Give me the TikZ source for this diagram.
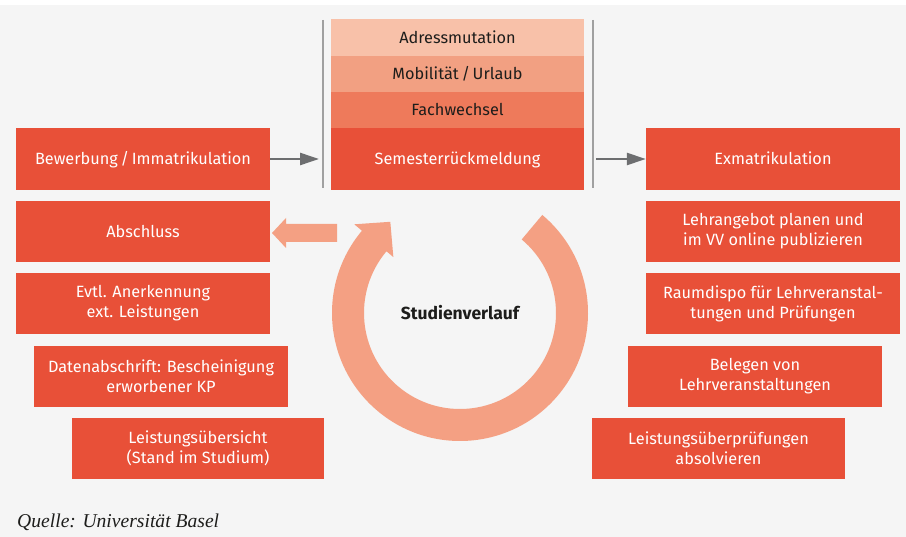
\documentclass[tikz,border=0pt]{standalone}
\usepackage{fontspec}
\setmainfont{Fira Sans}
\newfontfamily\quellefont{Liberation Serif}
\usetikzlibrary{arrows.meta}
\definecolor{bg}{HTML}{F5F5F5}
\definecolor{boxred}{HTML}{E85038}
\definecolor{st1}{HTML}{F8C1A9}
\definecolor{st2}{HTML}{F2A082}
\definecolor{st3}{HTML}{EE7A5B}
\definecolor{ringc}{HTML}{F4A083}
\definecolor{darktxt}{HTML}{1D1D1B}
\definecolor{garr}{HTML}{6D6E70}
\definecolor{vline}{HTML}{A0A0A0}
\tikzset{
  redbox/.style={fill=boxred, text=white, minimum width=254pt, minimum height=61pt, align=center, inner sep=0pt, font=\fontsize{16.3}{20}\selectfont},
  stackbox/.style={minimum width=253pt, align=center, inner sep=0pt, font=\fontsize{16.3}{20}\selectfont},
  oneline/.style={text height=11.2pt, text depth=0pt},
  garrow/.style={draw=garr, line width=2.5pt, -{Triangle[length=19pt,width=12pt]}},
  sepline/.style={draw=vline, line width=1.5pt}
}
\begin{document}
\begin{tikzpicture}[x=1pt,y=-1pt]
\useasboundingbox (0,0) rectangle (906,537);
\fill[white] (0,0) rectangle (906,537);
\fill[bg] (0,5) rectangle (906,537);
% stack
\node[stackbox, oneline, fill=st1, text=darktxt, minimum height=37pt] (adr) at (457.5,37.5) {Adressmutation};
\node[stackbox, oneline, fill=st2, text=darktxt, minimum height=36pt] (mob) at (457.5,74) {Mobilität\,/\,Urlaub};
\node[stackbox, oneline, fill=st3, text=darktxt, minimum height=36pt] (fach) at (457.5,110) {Fachwechsel};
\node[stackbox, oneline, fill=boxred, text=white, minimum height=62pt] (sem) at (457.5,159) {Semesterrückmeldung};
% separator lines
\coordinate (l1t) at (323,20); \coordinate (l1b) at (323,188);
\coordinate (l2t) at (593,20); \coordinate (l2b) at (593,188);
\draw[sepline] (l1t) -- (l1b);
\draw[sepline] (l2t) -- (l2b);
% left boxes
\node[redbox, oneline, minimum height=62pt] (bew) at (143,159) {Bewerbung\,/\,Immatrikulation};
\node[redbox, oneline] (absch) at (143,231.5) {Abschluss};
\node[redbox] (anerk) at (143,303.5) {Evtl. Anerkennung\\ext. Leistungen};
\node[redbox] (daten) at (161,376.5) {Datenabschrift: Bescheinigung\\erworbener KP};
\node[redbox, minimum width=252pt] (leist) at (198,448.5) {Leistungsübersicht\\(Stand im Studium)};
% right boxes
\node[redbox, oneline, minimum height=62pt] (exma) at (773,159) {Exmatrikulation};
\node[redbox] (lehr) at (773,231.5) {Lehrangebot planen und\\im VV online publizieren};
\node[redbox] (raum) at (773,303.5) {Raumdispo für Lehrveranstal-\\tungen und Prüfungen};
\node[redbox] (beleg) at (755,376.5) {Belegen von\\Lehrveranstaltungen};
\node[redbox, minimum width=253pt] (pruef) at (718.5,448.5) {Leistungsüberprüfungen\\absolvieren};
% gray arrows
\coordinate (a1) at (319,159);
\coordinate (a2) at (596,159);
\draw[garrow] (bew.east) -- (a1);
\draw[garrow] (a2) -- (exma.west);
% left block arrow
\fill[ringc] (337,224) -- (286,224) -- (286,218) -- (272,233) -- (286,248) -- (286,242) -- (337,242) -- cycle;
% ring
\begin{scope}[shift={(460,313)}, y=1pt]
\fill[ringc] (50:128) arc[start angle=50, end angle=-220, radius=128]
  -- (140:138) -- (-69.7,91.2) -- (140:87) -- (140:96)
  arc[start angle=140, end angle=410, radius=96] -- cycle;
\node[font=\fontsize{17.5}{20}\selectfont\bfseries, text=darktxt, text height=12.2pt, text depth=0pt] (stud) at (0,0) {Studienverlauf};
\end{scope}
% source
\node[anchor=base west, inner sep=0pt, font=\quellefont\itshape\fontsize{19.6}{22}\selectfont, text=darktxt] (quelle) at (17,527) {Quelle: Universität Basel};
\end{tikzpicture}
\end{document}
